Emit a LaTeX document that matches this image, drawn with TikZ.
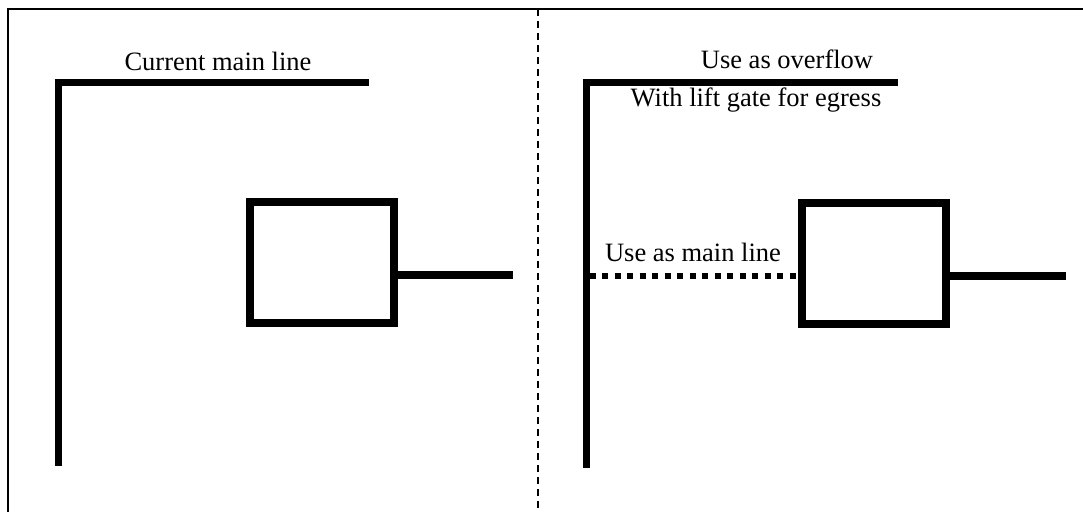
\documentclass[tikz,border=0pt]{standalone}
\usepackage{fontspec}
\setmainfont{Liberation Serif}
\usetikzlibrary{calc}
\begin{document}
\begin{tikzpicture}[x=1pt,y=-1pt,
  frame/.style={line width=1.3pt},
  divider/.style={line width=1.3pt,dash pattern=on 7pt off 5pt},
  wall/.style={line width=7pt,line cap=butt},
  stub/.style={line width=7.5pt},
  dotline/.style={line width=5.5pt,dash pattern=on 6pt off 6.5pt},
  boxnode/.style={draw,line width=8pt,minimum width=144pt,minimum height=121pt,inner sep=0pt},
  label/.style={font=\fontsize{26.5}{30}\selectfont,anchor=base,inner sep=0pt}]
\useasboundingbox (0,0) rectangle (1083,512);
% frame
\coordinate (ftl) at (8,9);
\coordinate (ftr) at (1083,9);
\coordinate (fbl) at (8,512);
\draw[frame] (ftr) -- (ftl) -- (fbl);
% divider
\coordinate (dtop) at (538,9);
\coordinate (dbot) at (538,512);
\draw[divider] (dtop) -- (dbot);
% left L
\coordinate (lbot) at (58,466);
\coordinate (lcorner) at (58,82);
\coordinate (lend) at (369,82);
\draw[wall] (lbot) -- ($(lcorner)+(0,-3.5)$) ;
\draw[wall] ($(lcorner)+(-3.5,0)$) -- (lend);
% right L
\coordinate (rbot) at (586,468);
\coordinate (rcorner) at (586,82);
\coordinate (rend) at (898,82);
\draw[wall] (rbot) -- ($(rcorner)+(0,-3.5)$);
\draw[wall] ($(rcorner)+(-3.5,0)$) -- (rend);
% boxes
\node[boxnode] (lbox) at (322,262.5) {};
\node[boxnode] (rbox) at (874,263) {};
\coordinate (lstub) at (513,275);
\coordinate (rstub) at (1066,276);
\draw[stub] (lstub -| lbox.east) -- (lstub);
\draw[stub] (rstub -| rbox.east) -- (rstub);
% dotted main line
\coordinate (dotstart) at (589.5,276);
\draw[dotline] (dotstart) -- (dotstart -| rbox.west);
% labels
\node[label] (t1) at (218,70) {Current main line};
\node[label] (t2) at (787,68) {Use as overflow};
\node[label] (t3) at (756,106) {With lift gate for egress};
\node[label] (t4) at (693,261) {Use as main line};
\end{tikzpicture}
\end{document}
